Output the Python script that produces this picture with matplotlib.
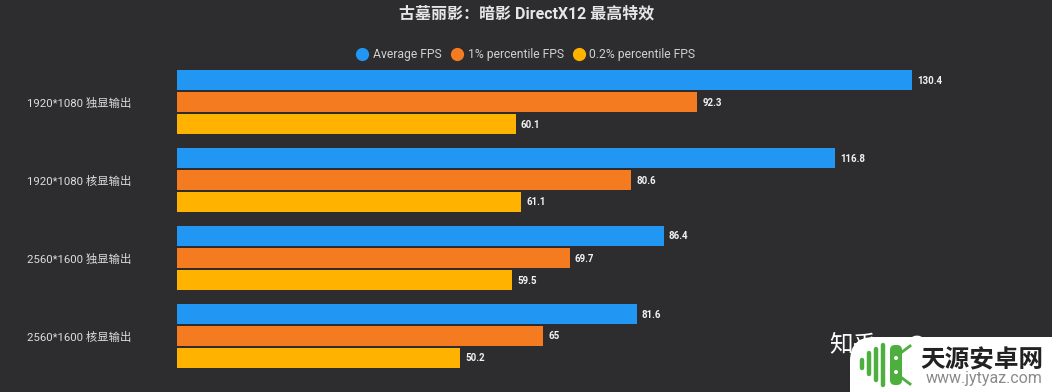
import matplotlib
matplotlib.use("Agg")
import matplotlib.pyplot as plt
from matplotlib.patches import FancyBboxPatch, Circle
from matplotlib.transforms import ScaledTranslation

plt.rcParams['font.family'] = ['Roboto', 'Noto Sans CJK SC', 'DejaVu Sans']

categories = ['1920*1080 独显输出', '1920*1080 核显输出', '2560*1600 独显输出', '2560*1600 核显输出']
series_names = ['Average FPS', '1% percentile FPS', '0.2% percentile FPS']
average_fps = [130.4, 116.8, 86.4, 81.6]
p1_fps = [92.3, 80.6, 69.7, 65]
p02_fps = [60.1, 61.1, 59.5, 50.2]
title = '古墓丽影：暗影 DirectX12 最高特效'
colors = ['#2196F3', '#F47B20', '#FFB300']
BG = '#2D2D2F'
W, H = 1052, 392

fig = plt.figure(figsize=(W / 100, H / 100), dpi=100, facecolor=BG)
ax = fig.add_axes([177 / W, 1 - 376 / H, (W - 177) / W, (376 - 68) / H], facecolor=BG)
px = 78.0
ax.set_xlim(0, (W - 177) * 130.4 / 735)
ax.set_ylim((376 - 102) / px, (68 - 102) / px)

for i, (vals, c, name) in enumerate(zip([average_fps, p1_fps, p02_fps], colors, series_names)):
    ys = [k + (i - 1) * 22 / px for k in range(len(categories))]
    ax.barh(ys, vals, height=20 / px, color=c, label=name, linewidth=0)
    for y, v in zip(ys, vals):
        ax.annotate(f'{v:g}', (v, y), xytext=(5, -0.5), textcoords='offset pixels',
                    va='center', ha='left', color='#F2F2F2', fontsize=7, fontweight='bold')

ax.set_yticks(range(len(categories)))
ax.set_yticklabels(categories, color='#DDDDDD', fontsize=8.2)
up = ScaledTranslation(0, 1 / 100, fig.dpi_scale_trans)
for t in ax.get_yticklabels():
    t.set_ha('left')
    t.set_x(-150 / (W - 177))
    t.set_transform(t.get_transform() + up)
ax.tick_params(axis='y', length=0, pad=0)
ax.set_xticks([])
for s in ax.spines.values():
    s.set_visible(False)

fig.text(527 / W, 1 - 14 / H, title, ha='center', va='center', color='#E6E6E6',
         fontsize=11.5, fontweight='bold')

handles = [plt.Line2D([], [], marker='o', ls='', ms=9.5, mew=0, color=c) for c in colors]
fig.legend(handles, series_names, loc='center', bbox_to_anchor=(523 / W, 1 - 54.5 / H), ncol=3,
           frameon=False, labelcolor='#D0D0D0', fontsize=8.7, handletextpad=-0.1,
           columnspacing=0.22, borderpad=0)

# source watermark from the reference
ov = fig.add_axes([0, 0, 1, 1], facecolor='none')
ov.set_xlim(0, W); ov.set_ylim(H, 0); ov.axis('off')
ov.text(829, 346, '知乎', ha='left', va='center', color='#FFFFFF', fontsize=17)
ov.add_patch(Circle((917, 346), 9, fc='none', ec='white', lw=2))
ov.add_patch(FancyBboxPatch((850, 337), 260, 90, boxstyle='round,pad=0,rounding_size=24',
                            fc='white', ec='none'))
green = '#4CAF3E'
for x, y0, y1 in [(862, 360, 368), (869, 353, 374), (876, 349, 380), (883, 345, 385)]:
    ov.plot([x, x], [y0, y1], color=green, lw=3.2, solid_capstyle='round')
ov.add_patch(FancyBboxPatch((890, 345), 12, 40, boxstyle='round,pad=0,rounding_size=5',
                            fc=green, ec='none'))
ov.add_patch(Circle((896, 358), 2, fc='white', ec='none'))
ov.add_patch(Circle((896, 372), 2, fc='white', ec='none'))
ov.plot([902, 910], [352, 346], color=green, lw=2)
ov.plot([902, 910], [378, 384], color=green, lw=2)
ov.text(1043, 360, '天源安卓网', color='#222222', fontsize=17.7, fontweight='bold', ha='right', va='center')
ov.text(1043, 378, 'www.jytyaz.com', color='#8A8A8A', fontsize=11.5, ha='right', va='center')

fig.savefig('out.png', dpi=100, facecolor=BG)
